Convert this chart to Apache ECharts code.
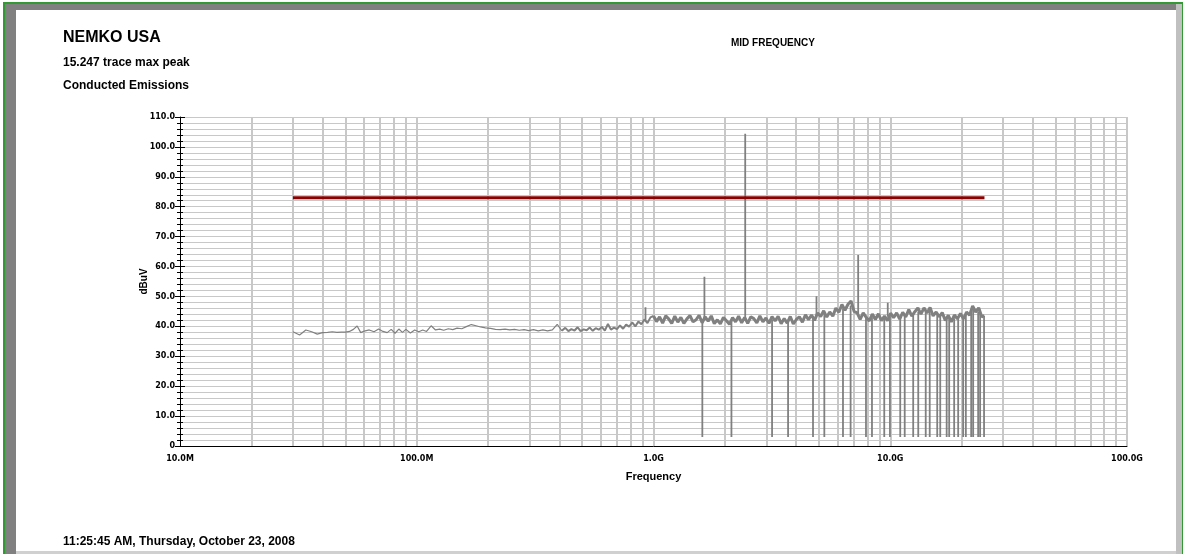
<!DOCTYPE html>
<html>
<head>
<meta charset="utf-8">
<script src="https://cdn.jsdelivr.net/npm/echarts@6/dist/echarts.min.js"></script>
<style>
html,body{margin:0;padding:0;background:#ffffff;}
#chart{width:1184px;height:554px;}
</style>
</head>
<body>
<div id="chart"></div>
<script>
// ---- axis ticks / labels ----
const xTickValues = [10, 100, 1000, 10000, 100000];
const xTickLabels = ['10.0M', '100.0M', '1.0G', '10.0G', '100.0G'];
const xMinorTickFreqs = [20,30,40,50,60,70,80,90,200,300,400,500,600,700,800,900,2000,3000,4000,5000,6000,7000,8000,9000,20000,30000,40000,50000,60000,70000,80000,90000];
const xGridFreqs = xMinorTickFreqs.concat([100, 1000, 10000, 100000]);

// ---- measured trace (MHz, dBuV), three stretches ----
const lowFreqs = [30,32,34,36,38,40,42,44,46,48,50,52,54,56,58,60,63,66,69,72,75,78,81,84,87,90,94,98,102,106,110,115,120,125,130,136,142,148,155,162,170,178,186,195,205,215,225,236,247,259,271,284,297,311,326,341,357,374,392,410];
const lowLevels = [38.2,37.1,38.8,38.2,37.4,37.9,38.0,38.2,38.0,38.1,38.1,38.3,39.0,40.1,37.9,38.4,38.8,38.2,39.1,38.3,37.9,39.0,37.7,39.1,38.0,39.0,37.8,38.8,38.2,38.8,38.3,40.2,38.8,39.1,38.7,39.2,38.9,39.4,39.2,39.9,40.6,40.2,39.8,39.5,39.3,39.0,38.9,39.1,38.8,39.0,38.7,38.9,38.6,38.9,38.5,38.8,38.5,38.8,40.7,38.5];

const midFreqs = [410,424,437,450,464,478,492,507,522,538,554,570,587,605,623,642,661,681,701,722,744,766,789,813,838,863,889,915,943,971,1000];
const midLevels = [38.5,39.5,38.4,39.1,38.6,39.7,38.4,39.0,38.7,39.6,38.5,39.4,38.9,39.8,38.6,40.8,38.9,39.6,39.1,40.3,39.2,40.6,39.9,41.3,40.0,41.6,40.7,42.3,41.1,43.0,43.5];

const highFreqs = [1000,1030,1061,1093,1126,1159,1194,1230,1267,1305,1344,1384,1426,1469,1513,1558,1605,1653,1702,1754,1806,1860,1916,1974,2033,2094,2157,2221,2288,2357,2427,2500,2575,2652,2732,2814,2898,2985,3075,3167,3262,3360,3461,3565,3672,3782,3895,4012,4132,4256,4384,4515,4651,4790,4934,5082,5235,5392,5553,5720,5892,6068,6250,6438,6631,6830,7035,7246,7463,7687,7918,8155,8400,8652,8912,9179,9454,9738,10030,10331,10641,10960,11289,11628,11976,12336,12706,13087,13480,13884,14301,14730,15172,15627,16095,16578,17076,17588,18116,18659,19219,19796,20389,21001,21631,22280,22949,23637,24346,25000];
const highLevels = [
  43.5,41.6,43.2,41.1,43.5,42.5,41.0,43.4,41.4,43.0,41.0,42.5,43.6,41.5,42.2,43.7,
  41.2,43.2,41.7,43.5,40.9,42.2,40.8,43.0,41.9,40.7,42.9,41.5,43.4,41.2,
  43.0,41.0,43.2,42.6,41.2,43.5,41.5,42.8,41.0,43.3,41.8,43.4,40.9,42.6,41.1,43.3,40.8,42.3,43.2,41.4,
  43.9,42.2,43.8,42.0,44.5,43.3,45.2,43.1,44.8,43.4,46.1,44.7,47.3,45.4,47.4,48.5,45.0,
  44.5,42.3,44.5,43.0,41.8,44.1,42.3,44.2,41.9,43.4,41.9,44.4,42.9,44.5,42.4,44.7,43.2,45.6,43.4,44.9,
  46.2,44.1,46.2,44.5,46.3,43.5,44.8,43.2,44.6,42.0,43.7,41.5,43.8,42.5,44.3,42.5,44.8,43.7,46.8,44.8,
  46.2,43.2,43.6
];

// narrow single-bin spikes: frequency, level of the trace under them, spike level
const spikeFreqs = [925,1641,2440,4880,7320,9760,
  1608,2134,3168,3702,4718,5267,6315,6801,7898,8372,9434,9970,11020,11510,12500,13130,14120,14680,15790,16260,17310,17740,18620,19360,20320,20860,21970,22400,23510,23970,24900];
const spikeBase = [41.8,42.3,42.2,43.5,44.0,43.2,
  42.3,41.8,42.1,42.2,43.0,44.2,46.0,47.0,43.2,43.0,42.9,43.1,43.4,43.8,44.5,45.0,45.4,45.3,44.3,43.6,42.9,42.8,42.7,42.8,43.3,43.8,45.6,45.7,45.0,44.4,43.5];
const spikeLevels = [46.4,56.6,104.4,50.1,63.9,47.9,
  3.0,3.0,3.0,3.0,3.0,3.0,3.0,3.0,3.0,3.0,3.0,3.0,3.0,3.0,3.0,3.0,3.0,3.0,3.0,3.0,3.0,3.0,3.0,3.0,3.0,3.0,3.0,3.0,3.0,3.0,3.0];

// ---- limit line ----
const limitFreqs = [30, 25000];
const limitLevels = [83, 83];

// ---- build ----
const pairs = (fs, ls) => fs.map((f, i) => [f, ls[i]]);
const spikePts = [];
spikeFreqs.forEach((f, i) => {
  spikePts.push([f, spikeBase[i]]);
  spikePts.push([f, spikeLevels[i]]);
  spikePts.push([f, '-']);
});
const limitPts = pairs(limitFreqs, limitLevels);

const tickData = [];
xMinorTickFreqs.forEach(f => tickData.push([{coord: [f, -0.8]}, {coord: [f, 0.9]}]));
xTickValues.forEach(f => tickData.push([{coord: [f, -1.3]}, {coord: [f, 1.5]}]));

const boldSans = {fontFamily: 'Liberation Sans', fontWeight: 'bold', color: '#000'};
const traceBase = {type: 'line', symbol: 'none', showSymbol: false, silent: true, sampling: null, z: 3};

const chart = echarts.init(document.getElementById('chart'), null, {renderer: 'canvas'});
const option = {
  animation: false,
  backgroundColor: '#ffffff',
  textStyle: {fontFamily: 'Liberation Sans'},
  title: [
    {text: 'NEMKO USA', left: 63, top: 30, padding: 0, textStyle: Object.assign({fontSize: 16}, boldSans)},
    {text: '15.247 trace max peak', left: 63, top: 57, padding: 0, textStyle: Object.assign({fontSize: 12}, boldSans)},
    {text: 'Conducted Emissions', left: 63, top: 80, padding: 0, textStyle: Object.assign({fontSize: 12}, boldSans)},
    {text: 'MID FREQUENCY', left: 731, top: 38, padding: 0, textStyle: Object.assign({fontSize: 10}, boldSans)},
    {text: '11:25:45 AM, Thursday, October 23, 2008', left: 63, top: 536, padding: 0, textStyle: Object.assign({fontSize: 12}, boldSans)}
  ],
  graphic: [
    {type: 'rect', shape: {x: 4, y: 3, width: 1178, height: 570}, style: {fill: 'rgba(0,0,0,0)', stroke: '#339933', lineWidth: 2}, silent: true},
    {type: 'rect', shape: {x: 5, y: 4, width: 11, height: 560}, style: {fill: '#808080'}, silent: true},
    {type: 'rect', shape: {x: 5, y: 4, width: 1172, height: 6}, style: {fill: '#808080'}, silent: true},
    {type: 'rect', shape: {x: 1176, y: 4, width: 6, height: 560}, style: {fill: '#c0c0c0'}, silent: true},
    {type: 'rect', shape: {x: 16, y: 551, width: 1160, height: 3}, style: {fill: '#d0d0d0'}, silent: true}
  ],
  grid: {left: 180, top: 117, right: 57, bottom: 108, containLabel: false, outerBoundsMode: 'none'},
  xAxis: {
    type: 'log', logBase: 10, min: 10, max: 100000, splitNumber: 4,
    axisLine: {show: true, onZero: false, lineStyle: {color: '#000', width: 1}},
    axisTick: {show: false},
    splitLine: {show: false},
    minorTick: {show: false},
    axisLabel: {
      show: true, margin: 9, fontFamily: 'DejaVu Sans', fontWeight: 'bold', fontSize: 8, color: '#000',
      showMinLabel: true, showMaxLabel: true, hideOverlap: false,
      formatter: function (v) {
        for (let i = 0; i < xTickValues.length; i++) {
          if (Math.abs(xTickValues[i] - v) / xTickValues[i] < 1e-6) return xTickLabels[i];
        }
        return '';
      }
    },
    name: 'Frequency', nameLocation: 'middle', nameGap: 25, nameMoveOverlap: false,
    nameTextStyle: {fontFamily: 'Liberation Sans', fontWeight: 'bold', fontSize: 11, color: '#000'}
  },
  yAxis: [
    {
      type: 'value', min: 0, max: 110, interval: 10, position: 'left', offset: 0,
      axisLine: {show: true, lineStyle: {color: '#000', width: 1}},
      axisTick: {show: true, inside: false, length: 5, lineStyle: {color: '#000', width: 1}},
      minorTick: {show: true, splitNumber: 5, length: 3, lineStyle: {color: '#000', width: 1}},
      splitLine: {show: true, lineStyle: {color: '#c8c8c8', width: 1}},
      minorSplitLine: {show: true, lineStyle: {color: '#c8c8c8', width: 1}},
      axisLabel: {
        margin: 5, fontFamily: 'DejaVu Sans', fontWeight: 'bold', fontSize: 8, color: '#000',
        formatter: function (v) { return v === 0 ? '0' : v.toFixed(1); }
      },
      name: 'dBuV', nameLocation: 'middle', nameGap: 31, nameRotate: 90, nameMoveOverlap: false,
      nameTextStyle: {fontFamily: 'Liberation Sans', fontWeight: 'bold', fontSize: 10, color: '#000'}
    },
    {
      type: 'value', min: 0, max: 110, interval: 10, position: 'left', offset: 0,
      axisLine: {show: false},
      axisTick: {show: true, inside: true, length: 5, lineStyle: {color: '#000', width: 1}},
      minorTick: {show: true, splitNumber: 5, length: 3, lineStyle: {color: '#000', width: 1}},
      splitLine: {show: false},
      minorSplitLine: {show: false},
      axisLabel: {show: false}
    }
  ],
  series: [
    {
      name: 'Limit', type: 'line', z: 4, symbol: 'none', showSymbol: false, silent: true,
      data: limitPts,
      lineStyle: {color: '#8b0000', width: 3},
      markLine: {
        silent: true, z: 1, symbol: ['none', 'none'], animation: false,
        label: {show: false}, emphasis: {disabled: true},
        lineStyle: {color: '#c8c8c8', width: 2, type: 'solid'},
        data: xGridFreqs.map(f => ({xAxis: f}))
      }
    },
    Object.assign({name: 'TraceLow', data: pairs(lowFreqs, lowLevels), lineStyle: {color: '#808080', width: 1.2}}, traceBase),
    Object.assign({name: 'TraceMid', data: pairs(midFreqs, midLevels), lineStyle: {color: '#808080', width: 2}}, traceBase),
    Object.assign({name: 'TraceHigh', data: pairs(highFreqs, highLevels), lineStyle: {color: '#808080', width: 3}}, traceBase),
    {
      name: 'Spikes', type: 'line', z: 3, symbol: 'none', showSymbol: false, silent: true, sampling: null,
      connectNulls: false,
      data: spikePts,
      lineStyle: {color: '#808080', width: 1.8},
      markLine: {
        silent: true, z: 6, symbol: ['none', 'none'], animation: false,
        label: {show: false}, emphasis: {disabled: true},
        lineStyle: {color: '#000', width: 1, type: 'solid'},
        data: tickData
      }
    }
  ]
};
chart.setOption(option);
</script>
</body>
</html>
